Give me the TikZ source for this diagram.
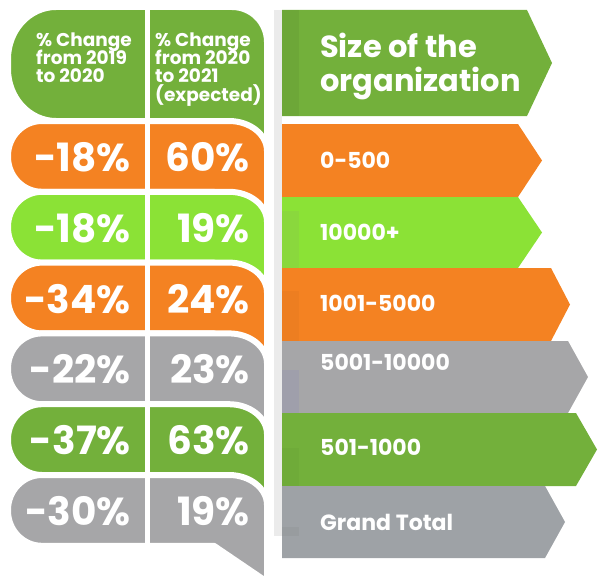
\documentclass[tikz,border=0pt]{standalone}
\usepackage{fontspec}
\setmainfont{Poppins}
\definecolor{cgreen}{HTML}{73B03B}
\definecolor{clgreen}{HTML}{8BE236}
\definecolor{corange}{HTML}{F48222}
\definecolor{cgray}{HTML}{A6A6A8}
\definecolor{cgrayb}{HTML}{9EA2A6}
\definecolor{cbar}{HTML}{EBEBEB}
\newcommand\bub[7]{%
  \path[bubble,fill=#3]
    (8,{#1+#5}) .. controls (8,{#1+0.448*#5}) and ({8+0.448*#4},#1) .. ({8+#4},#1)
    -- ({267-#6},#1) .. controls ({267-0.448*#6},#1) and (267,{#1+0.448*#7}) .. (267,{#1+#7})
    -- (267,{#2+36}) -- (214,#2)
    -- ({8+#4},#2) .. controls ({8+0.448*#4},#2) and (8,{#2-0.448*#5}) .. (8,{#2-#5}) -- cycle;}
\newcommand\arw[6]{% top, bottom, body end, tip x, color
  \path[fill=#5] (282,#1) -- (#3,#1) -- (#4,{(#1+#2)/2}) -- (#3,#2) -- (282,#2) -- cycle;}
\begin{document}
\begin{tikzpicture}[x=1pt,y=-1pt,
  bubble/.style={draw=white,line width=6pt,line join=round},
  num/.style={text=white,font=\bfseries\fontsize{39}{39}\selectfont,inner sep=0pt,anchor=base east},
  htxt/.style={text=white,font=\bfseries\fontsize{18.5}{18.5}\selectfont,inner sep=0pt,anchor=base west},
  lab/.style={text=white,font=\bfseries\fontsize{22}{22}\selectfont,inner sep=0pt,anchor=base west},
  big/.style={text=white,font=\bfseries\fontsize{30.5}{30.5}\selectfont,inner sep=0pt,anchor=base west}]
\useasboundingbox (0,0) rectangle (601,575);
% left bubbles
\bub{7}{121}{cgreen}{48}{52}{35}{35}
\bub{121}{191.8}{corange}{34}{35}{38}{30}
\bub{191.8}{262.6}{clgreen}{34}{35}{38}{30}
\bub{262.6}{333.4}{corange}{34}{35}{38}{30}
\bub{333.4}{404.2}{cgray}{34}{35}{38}{30}
\bub{404.2}{475}{cgreen}{34}{35}{38}{30}
\bub{475}{545.8}{cgray}{34}{35}{38}{30}
\draw[white,line width=5pt] (147,5) -- (147,548);
% header texts
\node[htxt] (a1) at (36,47) {\% Change};
\node[htxt] (a2) at (36,65) {from 2019};
\node[htxt] (a3) at (36,83) {to 2020};
\node[htxt] (b1) at (155,47) {\% Change};
\node[htxt] (b2) at (155,65) {from 2020};
\node[htxt] (b3) at (155,83) {to 2021};
\node[htxt] (b4) at (155,101) {(expected)};
% numbers
\node[num] (l1) at (131,171.5) {-18\%};
\node[num] (r1) at (250,171.5) {60\%};
\node[num] (l2) at (131,242.2) {-18\%};
\node[num] (r2) at (250,242.2) {19\%};
\node[num] (l3) at (131,313) {-34\%};
\node[num] (r3) at (250,313) {24\%};
\node[num] (l4) at (131,383.8) {-22\%};
\node[num] (r4) at (250,383.8) {23\%};
\node[num] (l5) at (131,454.6) {-37\%};
\node[num] (r5) at (250,454.6) {63\%};
\node[num] (l6) at (131,525.5) {-30\%};
\node[num] (r6) at (250,525.5) {19\%};
% right panel
\fill[cbar] (274,10) rectangle (282,536);
\arw{10}{116}{527}{552}{cgreen}{}
\arw{124}{197}{518}{542}{corange}{}
\arw{197}{268}{518}{542}{clgreen}{}
\arw{268}{341}{551}{570}{corange}{}
\arw{341}{413}{568}{588}{cgray}{}
\arw{413}{486}{576}{597}{cgreen}{}
\arw{486}{558}{545}{565}{cgrayb}{}
% subtle shading strips
\fill[cgreen!95!black] (282,10) rectangle (299,116);
\fill[clgreen!90!gray] (282,211) rectangle (299,268);
\fill[corange!97!black] (282,291) rectangle (299,341);
\fill[cgray!96!blue] (282,370) rectangle (299,413);
\fill[cgreen!97!black] (282,448) rectangle (299,486);
\fill[cgrayb!96!black] (282,527) rectangle (299,536);
% labels
\node[big] (s1) at (320,58) {Size of the};
\node[big] (s2) at (320,92) {organization};
\node[lab] (t1) at (320,168) {0-500};
\node[lab] (t2) at (320,240) {10000+};
\node[lab] (t3) at (320,311) {1001-5000};
\node[lab] (t4) at (320,370) {5001-10000};
\node[lab] (t5) at (320,455) {501-1000};
\node[lab] (t6) at (320,530) {Grand Total};
\end{tikzpicture}
\end{document}
